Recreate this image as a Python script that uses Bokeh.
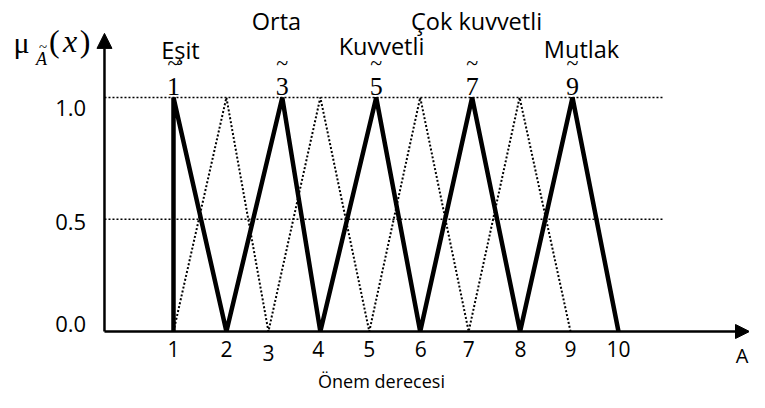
from bokeh.plotting import figure
from bokeh.models import Range1d, Arrow, NormalHead
from bokeh.core.properties import value
from bokeh.embed import file_html
from bokeh.resources import INLINE

# ---- data ----
tick_values = [1.0, 2.07, 2.92, 3.93, 4.96, 6.0, 6.97, 8.02, 9.03, 10.0]
tick_labels = ["1", "2", "3", "4", "5", "6", "7", "8", "9", "10"]

# bold triangular membership functions (odd scale 1,3,5,7,9)
bold_x = [1.0, 1.0, 2.07, 3.20, 3.97, 5.10, 5.99, 7.04, 8.01, 9.07, 10.0]
bold_y = [0.0, 1.0, 0.0, 1.0, 0.0, 1.0, 0.0, 1.0, 0.0, 1.0, 0.0]

# dotted intermediate membership functions (2,4,6,8)
dot_x = [1.0, 2.07, 2.92, 3.97, 4.96, 5.99, 6.97, 8.0, 9.03]
dot_y = [0.0, 1.0, 0.0, 1.0, 0.0, 1.0, 0.0, 1.0, 0.0]

grid_levels = [0.48, 1.0]
ylab_text = ["0.0", "0.5", "1.0"]

fuzzy_digits = ["1", "3", "5", "7", "9"]
fuzzy_x = [1.0, 3.20, 5.10, 7.04, 9.07]
terms = ["E\u015fit", "Orta", "Kuvvetli", "\u00c7ok kuvvetli", "Mutlak"]

# ---- figure ----
p = figure(width=749, height=392, output_backend="svg", toolbar_location=None,
           x_range=Range1d(-2.499, 12.650), y_range=Range1d(-0.2607, 1.4145),
           min_border=0)
p.axis.visible = False
p.grid.visible = False
p.outline_line_color = None
p.background_fill_color = "white"
p.border_fill_color = "white"

x_axis_start = -0.396
grid_end = 10.91

# dotted reference lines
p.multi_line(xs=[[x_axis_start, grid_end] for _ in grid_levels],
             ys=[[g, g] for g in grid_levels],
             line_color="black", line_width=1.5, line_dash="2 2")

# dotted triangles
p.line(dot_x, dot_y, line_color="black", line_width=2.0, line_dash="2 2")
# bold triangles
p.line(bold_x, bold_y, line_color="black", line_width=4.5, line_join="bevel")

# axes with arrows
p.add_layout(Arrow(end=NormalHead(size=15, fill_color="black", line_color="black"),
                   x_start=x_axis_start, y_start=0.0, x_end=x_axis_start, y_end=1.274,
                   line_width=2.5, line_color="black"))
p.add_layout(Arrow(end=NormalHead(size=14, fill_color="black", line_color="black"),
                   x_start=x_axis_start, y_start=0.0, x_end=12.65, y_end=0.0,
                   line_width=2.5, line_color="black"))

sans = value("Open Sans")
serif = value("Liberation Serif")

# x tick labels
tick_y = [-0.073] * len(tick_values)
tick_y[2] = -0.090
p.text(x=tick_values, y=tick_y, text=tick_labels, text_font=sans,
       text_font_size="21px", text_align="center", text_baseline="middle",
       text_color="black")

# y tick labels
p.text(x=[-1.08, -1.08, -1.08], y=[0.034, 0.470, 0.953], text=ylab_text,
       text_font=sans, text_font_size="22px", text_align="center",
       text_baseline="middle", text_color="black")

# fuzzy numbers (digit + tilde above)
p.text(x=fuzzy_x, y=[1.047] * 5, text=fuzzy_digits, text_font=serif,
       text_font_size="26px", text_align="center", text_baseline="alphabetic",
       text_color="black")
p.text(x=fuzzy_x, y=[1.15] * 5, text=["~"] * 5, text_font=serif,
       text_font_size="22px", text_align="center", text_baseline="middle",
       text_color="black")

# linguistic terms
term_x = [1.14, 3.083, 5.207, 7.129, 9.252]
term_y = [1.201, 1.329, 1.218, 1.329, 1.209]
p.text(x=term_x, y=term_y, text=terms, text_font=sans, text_font_size="23.5px",
       text_align="center", text_baseline="middle", text_color="black")

# axis titles
p.text(x=[5.207], y=[-0.21], text=["\u00d6nem derecesi"], text_font=sans,
       text_font_size="18px", text_align="center", text_baseline="middle",
       text_color="black")
p.text(x=[12.50], y=[-0.103], text=["A"], text_font=sans,
       text_font_size="20px", text_align="center", text_baseline="middle",
       text_color="black")

# mu_A~(x)
p.text(x=[-2.074], y=[1.235], text=["\u03bc"], text_font=serif,
       text_font_size="30px", text_align="center", text_baseline="middle",
       text_color="black")
p.text(x=[-1.67], y=[1.165], text=["A"], text_font=serif,
       text_font_size="18px", text_font_style="italic", text_align="center",
       text_baseline="middle", text_color="black")
p.text(x=[-1.64], y=[1.215], text=["~"], text_font=serif,
       text_font_size="15px", text_align="center", text_baseline="middle",
       text_color="black")
p.text(x=[-1.41, -0.79], y=[1.24, 1.24], text=["(", ")"], text_font=serif,
       text_font_size="32px", text_align="center", text_baseline="middle",
       text_color="black")
p.text(x=[-1.09], y=[1.24], text=["x"], text_font=serif,
       text_font_size="32px", text_font_style="italic", text_align="center",
       text_baseline="middle", text_color="black")

open("out.html", "w").write(file_html(p, INLINE))
